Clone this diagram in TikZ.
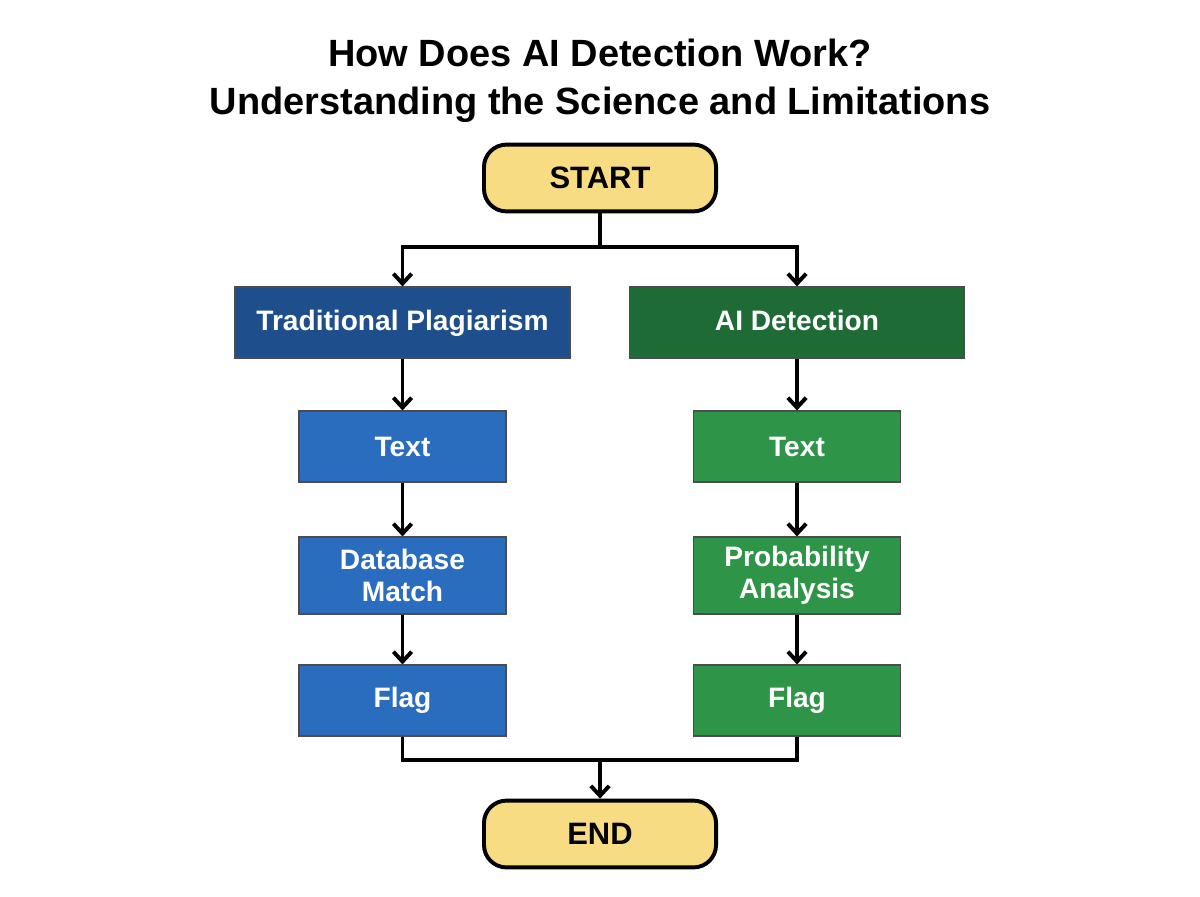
\documentclass[tikz,border=0pt]{standalone}
\usepackage{fontspec}
\setmainfont{Liberation Sans}
\usetikzlibrary{arrows.meta,positioning}
\definecolor{startyel}{HTML}{F7DC84}
\definecolor{darkblue}{HTML}{1F4E8C}
\definecolor{midblue}{HTML}{2A6DBF}
\definecolor{darkgreen}{HTML}{1E6B35}
\definecolor{midgreen}{HTML}{2E9448}
\tikzset{
	term/.style={draw=black,line width=2.8pt,rounded corners=16pt,fill=startyel,minimum width=5.8cm,minimum height=1.67cm,font=\fontsize{22}{26}\selectfont\bfseries},
	head/.style={draw=black!70,line width=0.8pt,minimum width=8.375cm,minimum height=1.775cm,text=white,text height=14pt,text depth=2pt,font=\fontsize{20}{23}\selectfont\bfseries},
	stage/.style={draw=black!70,line width=0.8pt,minimum width=5.175cm,minimum height=1.775cm,text=white,align=center,font=\fontsize{20}{23}\selectfont\bfseries},
	flow/.style={line width=2.8pt,-{Straight Barb[length=7pt,width=13pt,line width=2.8pt]}},
	wire/.style={line width=2.8pt}
}
\begin{document}
\begin{tikzpicture}[x=0.025cm,y=-0.025cm]
	\useasboundingbox[fill=white] (0,0) rectangle (1200,896);
	%TITLE
	\node (title) at (600,81) {\fontsize{27}{34}\selectfont\bfseries\begin{tabular}{c}How Does AI Detection Work?\\Understanding the Science and Limitations\end{tabular}};

	%TERMINALS
	\node[term] (start) at (600,178) {START};
	\node[term] (end) at (600,834) {END};

	%LEFT BRANCH
	\node[head,fill=darkblue] (trad) at (402.5,322.5) {Traditional Plagiarism};
	\node[stage,fill=midblue] (ltext) at (402.5,446.5) {Text};
	\node[stage,fill=midblue,minimum height=1.925cm] (dbm) at (402.5,575.5) {Database\\Match};
	\node[stage,fill=midblue] (lflag) at (402.5,700.5) {Flag};

	%RIGHT BRANCH
	\node[head,fill=darkgreen] (aid) at (797,322.5) {AI Detection};
	\node[stage,fill=midgreen] (rtext) at (797,446.5) {Text};
	\node[stage,fill=midgreen,minimum height=1.925cm] (prob) at (797,575.5) {Probability\\Analysis};
	\node[stage,fill=midgreen] (rflag) at (797,700.5) {Flag};

	%CONNECTORS
	\coordinate (split) at (600,247);
	\coordinate (merge) at (600,760);
	\draw[wire] (start) -- (split);
	\draw[flow] (split) -| (trad);
	\draw[flow] (split) -| (aid);
	\draw[flow] (trad) -- (ltext);
	\draw[flow] (ltext) -- (dbm);
	\draw[flow] (dbm) -- (lflag);
	\draw[flow] (aid) -- (rtext);
	\draw[flow] (rtext) -- (prob);
	\draw[flow] (prob) -- (rflag);
	\draw[wire] (lflag) |- (merge);
	\draw[wire] (rflag) |- (merge);
	\draw[flow] (merge) -- (end);
\end{tikzpicture}
\end{document}
